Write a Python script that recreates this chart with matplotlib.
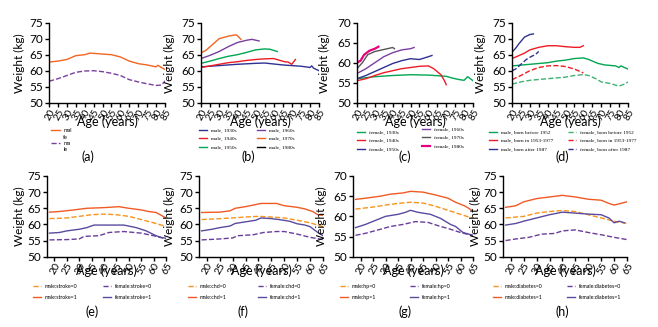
import matplotlib
matplotlib.use('Agg')
import matplotlib.pyplot as plt
from matplotlib.legend import Legend

plt.rcParams['font.family'] = ['Lato', 'DejaVu Sans']

# ---------------- DATA ----------------
# (a) all participants
a_age = [20, 25, 30, 35, 40, 43, 50, 55, 60, 65, 70, 75, 80, 81, 83, 85]
a_male = [62.7, 63.0, 63.5, 64.7, 65.0, 65.5, 65.2, 65.0, 64.3, 63.0, 62.2, 61.8, 61.2, 61.7, 61.0, 60.4]
a_fem_age = [20, 25, 30, 35, 40, 45, 50, 55, 60, 65, 70, 75, 80, 83, 85]
a_female = [56.7, 57.5, 58.5, 59.5, 59.9, 60.0, 59.7, 59.2, 58.5, 57.2, 56.5, 55.9, 55.4, 55.5, 56.8]
a_labels = ['mal', 'fe\nma\nle']

# (b) male by birth decade
b_labels = ['male, 1930s', 'male, 1940s', 'male, 1950s', 'male, 1960s', 'male, 1970s', 'male, 1980s']
b_age_1930 = [20, 30, 40, 50, 55, 60, 65, 70, 75, 79, 80, 81, 82, 85]
b_w_1930 = [61.2, 61.6, 62.0, 62.3, 62.4, 62.1, 61.8, 61.6, 61.4, 61.1, 61.0, 61.5, 60.8, 60.0]
b_age_1940 = [20, 25, 30, 35, 40, 45, 50, 55, 60, 63, 66, 68, 70, 72]
b_w_1940 = [61.0, 61.5, 62.0, 62.5, 62.8, 63.2, 63.5, 63.7, 63.8, 63.3, 62.8, 62.7, 62.0, 63.5]
b_age_1950 = [20, 25, 30, 35, 40, 45, 50, 55, 58, 62]
b_w_1950 = [62.3, 63.0, 63.8, 64.5, 65.0, 65.7, 66.5, 66.8, 66.7, 66.0]
b_age_1960 = [20, 25, 30, 35, 40, 45, 48, 52]
b_w_1960 = [63.8, 64.8, 66.0, 67.5, 68.8, 69.5, 69.8, 69.3]
b_age_1970 = [20, 23, 26, 30, 35, 39, 40, 42]
b_w_1970 = [65.5, 66.5, 68.0, 70.0, 70.8, 71.2, 71.0, 69.8]
b_age_1980 = []
b_w_1980 = []

# (c) female by birth decade
c_labels = ['female, 1930s', 'female, 1940s', 'female, 1950s', 'female, 1960s', 'female, 1970s', 'female, 1980s']
c_age_1930 = [20, 30, 40, 50, 60, 70, 73, 77, 80, 82, 85]
c_w_1930 = [56.0, 56.5, 56.8, 57.0, 56.9, 56.6, 56.2, 55.8, 55.6, 56.5, 55.5]
c_age_1940 = [20, 25, 30, 35, 40, 45, 50, 55, 60, 63, 67, 69, 70]
c_w_1940 = [55.5, 56.0, 56.8, 57.5, 58.0, 58.5, 58.8, 59.1, 59.2, 58.5, 57.0, 55.5, 54.5]
c_age_1950 = [20, 25, 30, 35, 40, 45, 50, 55, 60, 62]
c_w_1950 = [56.0, 56.8, 57.8, 58.8, 59.8, 60.5, 61.0, 60.8, 61.5, 61.8]
c_age_1960 = [20, 25, 30, 35, 40, 45, 50, 52]
c_w_1960 = [57.3, 58.5, 60.0, 61.5, 62.5, 63.2, 63.5, 63.8]
c_age_1970 = [20, 23, 26, 30, 35, 40, 41]
c_w_1970 = [58.5, 60.0, 62.0, 62.8, 63.3, 63.8, 63.5]
c_age_1980 = [20, 22, 24, 27, 30, 32]
c_w_1980 = [60.0, 60.5, 62.0, 63.0, 63.5, 64.0]

# (d) by birth period
d_labels_m = ['male, born before 1952', 'male, born in 1953-1977', 'male, born after 1987']
d_labels_f = ['female, born before 1952', 'female, born in 1953-1977', 'female, born after 1987']
d_age_m1 = [20, 30, 40, 45, 50, 55, 60, 63, 68, 72, 78, 80, 81, 85]
d_w_m1 = [61.5, 62.0, 62.5, 63.0, 63.3, 63.8, 64.0, 63.5, 62.3, 61.8, 61.5, 61.0, 61.5, 60.5]
d_age_m2 = [20, 23, 27, 30, 35, 40, 45, 50, 55, 58, 60]
d_w_m2 = [63.8, 64.5, 65.5, 66.5, 67.3, 67.8, 67.8, 67.5, 67.3, 67.3, 67.8]
d_age_m3 = [20, 22, 24, 27, 30, 32]
d_w_m3 = [65.8, 67.0, 68.5, 70.5, 71.3, 71.5]
d_age_f1 = [20, 25, 30, 40, 50, 55, 60, 63, 67, 70, 75, 78, 80, 83, 85]
d_w_f1 = [55.8, 56.5, 57.0, 57.5, 58.0, 58.5, 58.8, 58.5, 57.5, 56.5, 56.0, 55.5, 55.2, 55.8, 56.5]
d_age_f2 = [20, 25, 30, 35, 40, 45, 50, 55, 60]
d_w_f2 = [57.2, 58.5, 60.0, 61.0, 61.5, 61.6, 61.3, 60.5, 59.3]
d_age_f3 = [20, 22, 25, 28, 31, 33, 35]
d_w_f3 = [60.0, 60.5, 62.0, 63.5, 64.5, 65.0, 66.0]

# (e) stroke
e_labels = ['male:stroke=0', 'male:stroke=1', 'female:stroke=0', 'female:stroke=1']
e_age_m0 = [18, 25, 30, 35, 40, 45, 50, 55, 60, 63, 65]
e_m0 = [61.8, 62.0, 62.5, 63.0, 63.2, 63.0, 62.5, 61.5, 60.5, 59.8, 59.5]
e_age_m1 = [18, 22, 28, 33, 40, 46, 50, 55, 58, 61, 65]
e_m1 = [63.8, 64.0, 64.5, 65.0, 65.2, 65.5, 65.0, 64.5, 64.0, 63.7, 62.0]
e_age_f0 = [18, 25, 30, 32, 38, 42, 48, 55, 60, 65]
e_f0 = [55.2, 55.3, 55.5, 56.3, 56.5, 57.5, 57.8, 57.3, 56.5, 55.5]
e_age_f1 = [18, 22, 25, 30, 33, 36, 40, 48, 53, 57, 61, 63, 65]
e_f1 = [57.3, 57.5, 58.0, 58.5, 59.0, 59.8, 59.8, 59.8, 59.0, 58.0, 56.5, 56.0, 55.7]

# (f) chd
f_labels = ['male:chd=0', 'male:chd=1', 'female:chd=0', 'female:chd=1']
f_age_m0 = [18, 25, 30, 35, 40, 45, 50, 55, 60, 65]
f_m0 = [61.5, 61.8, 62.0, 62.3, 62.5, 62.3, 62.0, 61.3, 60.5, 59.3]
f_age_m1 = [18, 25, 29, 31, 35, 38, 41, 47, 50, 55, 58, 61, 63, 65]
f_m1 = [63.7, 63.8, 64.2, 65.0, 65.5, 66.0, 66.5, 66.5, 65.8, 65.3, 64.8, 64.0, 63.0, 62.8]
f_age_f0 = [18, 25, 30, 32, 38, 42, 47, 50, 55, 60, 65]
f_f0 = [55.2, 55.5, 55.8, 56.5, 56.8, 57.5, 57.8, 57.8, 57.0, 56.0, 55.3]
f_age_f1 = [18, 22, 25, 29, 31, 35, 39, 41, 45, 48, 52, 55, 58, 60, 63, 65]
f_f1 = [58.0, 58.5, 59.0, 59.5, 60.3, 60.8, 61.3, 62.0, 61.8, 61.5, 61.0, 60.2, 59.8, 59.3, 57.5, 56.5]

# (g) hp
g_labels = ['male:hp=0', 'male:hp=1', 'female:hp=0', 'female:hp=1']
g_age_m0 = [18, 25, 30, 35, 40, 45, 50, 55, 60, 65]
g_m0 = [61.8, 62.3, 62.8, 63.2, 63.5, 63.3, 62.5, 61.5, 60.5, 59.5]
g_age_m1 = [18, 22, 28, 32, 37, 40, 45, 50, 55, 58, 62, 65]
g_m1 = [64.2, 64.5, 65.0, 65.5, 65.8, 66.2, 66.0, 65.3, 64.5, 63.5, 62.5, 61.3]
g_age_f0 = [18, 22, 28, 32, 37, 42, 47, 52, 55, 60, 65]
g_f0 = [55.3, 55.8, 56.8, 57.5, 58.0, 58.7, 58.5, 57.5, 57.0, 56.0, 55.2]
g_age_f1 = [18, 22, 26, 30, 35, 38, 40, 43, 48, 52, 56, 58, 61, 65]
g_f1 = [57.2, 58.0, 59.0, 60.0, 60.5, 61.0, 61.5, 61.0, 60.5, 59.5, 58.0, 57.5, 56.0, 55.3]

# (h) diabetes
h_labels = ['male:diabetes=0', 'male:diabetes=1', 'female:diabetes=0', 'female:diabetes=1']
h_age_m0 = [18, 25, 30, 35, 40, 45, 50, 55, 60, 65]
h_m0 = [62.0, 62.5, 63.5, 64.0, 64.3, 64.0, 63.0, 62.0, 61.0, 60.3]
h_age_m1 = [18, 22, 25, 30, 35, 40, 45, 50, 55, 58, 60, 65]
h_m1 = [65.3, 65.8, 67.0, 68.0, 68.5, 69.0, 68.5, 67.8, 67.5, 66.5, 66.0, 67.0]
h_age_f0 = [18, 22, 27, 32, 37, 40, 45, 50, 55, 60, 65]
h_f0 = [55.0, 55.5, 56.0, 57.0, 57.2, 58.0, 58.3, 57.5, 56.8, 56.0, 55.3]
h_age_f1 = [18, 22, 25, 30, 35, 40, 45, 50, 55, 58, 60, 62, 64]
h_f1 = [59.8, 60.3, 61.0, 62.0, 63.0, 63.8, 63.5, 63.2, 63.0, 62.0, 60.5, 61.0, 60.5]

panel_letters = ['(a)', '(b)', '(c)', '(d)', '(e)', '(f)', '(g)', '(h)']
top_xticks = list(range(20, 90, 5))
bot_xticks = list(range(20, 70, 5))

# ---------------- COLOURS ----------------
BLUE = '#2e3192'
RED = '#ed1c24'
GREEN = '#00a651'
PURPLE = '#7a3fa0'
ORANGE = '#f26522'
MAGENTA = '#e6007e'
GRAY = '#555555'
M0 = '#f7941d'
M1 = '#f15a24'
F0 = '#6a3d9a'
F1 = '#5a4aa0'

W, H = 658, 327
fig = plt.figure(figsize=(W / 100, H / 100), dpi=100)


def ax_at(l, r, t, b):
    return fig.add_axes([l / W, 1 - b / H, (r - l) / W, (b - t) / H])


def style(ax, xlim, ylim, xticks, yticks, ylab_x, xlab_y, rot, xfs):
    ax.set_xlim(*xlim)
    ax.set_ylim(*ylim)
    ax.set_xticks(xticks)
    ax.set_yticks(yticks)
    for s in ['top', 'right']:
        ax.spines[s].set_visible(False)
    for s in ['left', 'bottom']:
        ax.spines[s].set_linewidth(1.0)
    ax.tick_params(axis='both', direction='out', length=3, width=1.0, pad=1)
    ax.tick_params(axis='y', labelsize=8.5)
    ax.tick_params(axis='x', labelsize=xfs, pad=0.5)
    plt.setp(ax.get_xticklabels(), rotation=rot, ha='right', rotation_mode='anchor')
    ax.set_ylabel('Weight (kg)', fontsize=8.5)
    ax.set_xlabel('Age (years)', fontsize=9)
    pos = ax.get_position()
    l_px = pos.x0 * W
    w_px = pos.width * W
    b_px = (1 - pos.y0) * H
    h_px = pos.height * H
    ax.yaxis.set_label_coords((ylab_x - l_px) / w_px, 0.5)
    ax.xaxis.set_label_coords(0.5, -(xlab_y - b_px) / h_px)


def col_legend(ax, handles, labels, x, y, fs=4, spacing=0.7, family=None):
    prop = {'size': fs}
    if family:
        prop['family'] = family
    leg = Legend(ax, handles, labels, loc='upper left',
                 bbox_to_anchor=(x / W, 1 - y / H), bbox_transform=fig.transFigure,
                 frameon=False, prop=prop, handlelength=1.6, handletextpad=0.6,
                 labelspacing=spacing, borderpad=0, borderaxespad=0)
    ax.add_artist(leg)


SERIF = ['Liberation Serif', 'DejaVu Serif']
LW = 1.0
TOP_XL = 115.5
BOT_XL = 264

# ---------------- (a) ----------------
ax = ax_at(49, 165, 22.7, 102.7)
la1, = ax.plot(a_age, a_male, color=ORANGE, lw=LW, label=a_labels[0])
la2, = ax.plot(a_fem_age, a_female, color=PURPLE, lw=LW, ls='--', label=a_labels[1])
style(ax, (20, 85), (50, 75), top_xticks, range(50, 80, 5), 25, TOP_XL, 60, 7)
col_legend(ax, [la1], [a_labels[0]], 51, 127.5, fs=4)
col_legend(ax, [la2], [a_labels[1]], 51, 135, fs=4, spacing=0.2)
fig.text(88 / W, 1 - 157 / H, panel_letters[0], ha='center', va='center', fontsize=9)

# ---------------- (b) ----------------
ax = ax_at(201, 319, 22.7, 102.7)
b_ages = [b_age_1930, b_age_1940, b_age_1950, b_age_1960, b_age_1970, b_age_1980]
b_ws = [b_w_1930, b_w_1940, b_w_1950, b_w_1960, b_w_1970, b_w_1980]
b_cols = [BLUE, RED, GREEN, PURPLE, ORANGE, 'black']
hb = []
for ag, wv, c, lab in zip(b_ages, b_ws, b_cols, b_labels):
    h, = ax.plot(ag, wv, color=c, lw=LW, label=lab)
    hb.append(h)
style(ax, (20, 85), (50, 75), top_xticks, range(50, 80, 5), 175, TOP_XL, 60, 7)
col_legend(ax, hb[:3], b_labels[:3], 199, 128, fs=3.8, family=SERIF)
col_legend(ax, hb[3:], b_labels[3:], 257, 128, fs=3.8, family=SERIF)
fig.text(248 / W, 1 - 157 / H, panel_letters[1], ha='center', va='center', fontsize=9)

# ---------------- (c) ----------------
ax = ax_at(357, 473, 22.7, 102.7)
c_ages = [c_age_1930, c_age_1940, c_age_1950, c_age_1960, c_age_1970, c_age_1980]
c_ws = [c_w_1930, c_w_1940, c_w_1950, c_w_1960, c_w_1970, c_w_1980]
c_cols = [GREEN, RED, BLUE, PURPLE, GRAY, MAGENTA]
c_lws = [LW, LW, LW, LW, LW, 1.6]
hc = []
for ag, wv, c, lab, lw in zip(c_ages, c_ws, c_cols, c_labels, c_lws):
    h, = ax.plot(ag, wv, color=c, lw=lw, label=lab)
    hc.append(h)
style(ax, (20, 85), (50, 70), top_xticks, range(50, 75, 5), 330, TOP_XL, 60, 7)
col_legend(ax, hc[:3], c_labels[:3], 357, 130, fs=3.8, family=SERIF)
col_legend(ax, hc[3:], c_labels[3:], 422, 127, fs=3.8, family=SERIF)
fig.text(405 / W, 1 - 157 / H, panel_letters[2], ha='center', va='center', fontsize=9)

# ---------------- (d) ----------------
ax = ax_at(512, 628, 22.7, 102.7)
hd_m = []
for ag, wv, c, lab in zip([d_age_m1, d_age_m2, d_age_m3], [d_w_m1, d_w_m2, d_w_m3],
                          [GREEN, RED, BLUE], d_labels_m):
    h, = ax.plot(ag, wv, color=c, lw=LW, label=lab)
    hd_m.append(h)
hd_f = []
for ag, wv, c, lab in zip([d_age_f1, d_age_f2, d_age_f3], [d_w_f1, d_w_f2, d_w_f3],
                          ['#3cb371', RED, BLUE], d_labels_f):
    h, = ax.plot(ag, wv, color=c, lw=LW, ls='--', label=lab)
    hd_f.append(h)
style(ax, (20, 85), (50, 75), top_xticks, range(50, 80, 5), 486, TOP_XL, 60, 7)
col_legend(ax, hd_m, d_labels_m, 489, 130, fs=3.8, family=SERIF)
col_legend(ax, hd_f, d_labels_f, 568, 130, fs=3.8, family=SERIF)
fig.text(562 / W, 1 - 157 / H, panel_letters[3], ha='center', va='center', fontsize=9)


# ---------------- bottom row ----------------
def bottom_panel(l, r, ylim, ages, vals, labels, ylab_x, leg1_x, leg2_x, letter_x, letter):
    ax = ax_at(l, r, 176, 256.7)
    styles = [(M0, '--'), (M1, '-'), (F0, '--'), (F1, '-')]
    hs = []
    for ag, wv, (c, ls), lab in zip(ages, vals, styles, labels):
        h, = ax.plot(ag, wv, color=c, ls=ls, lw=LW, label=lab)
        hs.append(h)
    style(ax, (17, 65), ylim, bot_xticks, range(ylim[0], ylim[1] + 5, 5), ylab_x, BOT_XL, 60, 7.5)
    col_legend(ax, hs[:2], labels[:2], leg1_x, 284, fs=3.8, spacing=1.1)
    col_legend(ax, hs[2:], labels[2:], leg2_x, 284, fs=3.8, spacing=1.1)
    fig.text(letter_x / W, 1 - 312 / H, letter, ha='center', va='center', fontsize=9)


bottom_panel(47, 166, (50, 75), [e_age_m0, e_age_m1, e_age_f0, e_age_f1], [e_m0, e_m1, e_f0, e_f1],
             e_labels, 25, 33, 103, 92, panel_letters[4])
bottom_panel(199, 323, (50, 75), [f_age_m0, f_age_m1, f_age_f0, f_age_f1], [f_m0, f_m1, f_f0, f_f1],
             f_labels, 175, 188, 258, 243, panel_letters[5])
bottom_panel(353, 473, (50, 70), [g_age_m0, g_age_m1, g_age_f0, g_age_f1], [g_m0, g_m1, g_f0, g_f1],
             g_labels, 327, 340, 410, 405, panel_letters[6])
bottom_panel(503, 627, (50, 75), [h_age_m0, h_age_m1, h_age_f0, h_age_f1], [h_m0, h_m1, h_f0, h_f1],
             h_labels, 481, 493, 567, 562, panel_letters[7])

fig.savefig('out.png', dpi=100)
